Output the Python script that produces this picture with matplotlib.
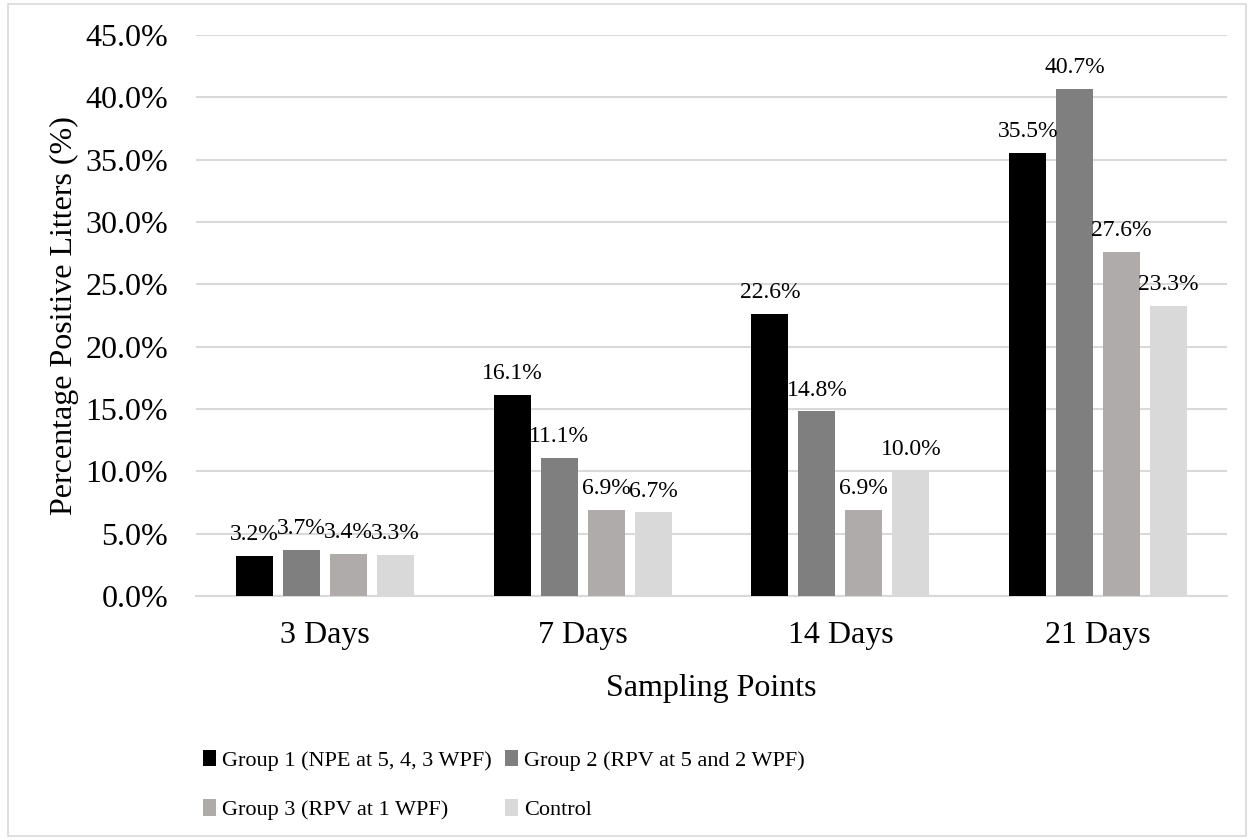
import numpy as np
import matplotlib
matplotlib.use('Agg')
import matplotlib.pyplot as plt
from matplotlib.patches import Rectangle
from matplotlib.ticker import PercentFormatter

plt.rcParams['font.family'] = ['Liberation Serif', 'DejaVu Serif']

sampling_points = ['3 Days', '7 Days', '14 Days', '21 Days']
group_names = ['Group 1 (NPE at 5, 4, 3 WPF)', 'Group 2 (RPV at 5 and 2 WPF)',
               'Group 3 (RPV at 1 WPF)', 'Control']
group1 = [0.032, 0.161, 0.226, 0.355]
group2 = [0.037, 0.111, 0.148, 0.407]
group3 = [0.034, 0.069, 0.069, 0.276]
control = [0.033, 0.067, 0.100, 0.233]

series = [group1, group2, group3, control]
colors = ['#000000', '#7f7f7f', '#afabab', '#d9d9d9']

W, H = 1251, 840
fig = plt.figure(figsize=(W / 100, H / 100), dpi=100)
# thin border round the whole chart
fig.patches.append(Rectangle((8 / W, 4 / H), (1246 - 8) / W, (836 - 4) / H,
                             transform=fig.transFigure, fill=False,
                             edgecolor='#d9d9d9', linewidth=1.2))

ax = fig.add_axes([196 / W, 1 - 596 / H, (1227 - 196) / W, (596 - 35) / H])

x = np.arange(len(sampling_points))
step = 0.1823
width = 0.1435
for i, (vals, c, name) in enumerate(zip(series, colors, group_names)):
    pos = x + (i - 1.5) * step
    ax.bar(pos, vals, width, color=c, label=name, zorder=3)
    for xb, v in zip(pos, vals):
        ax.annotate(f'{v * 100:.1f}%', (xb, v), xytext=(0, 11.5),
                    textcoords='offset points', ha='center', va='baseline',
                    fontsize=17, zorder=4)

ax.set_xlim(-0.5, len(sampling_points) - 0.5)
ax.set_ylim(0, 0.45)
ax.set_yticks(np.arange(0, 0.4501, 0.05))
ax.yaxis.set_major_formatter(PercentFormatter(1.0, decimals=1))
ax.set_xticks(x)
ax.set_xticklabels(sampling_points)
ax.tick_params(axis='both', length=0, labelsize=23)
ax.tick_params(axis='y', pad=20)
ax.tick_params(axis='x', pad=18)
ax.grid(axis='y', color='#d9d9d9', linewidth=1.5, zorder=0)
for s in ['top', 'right', 'left']:
    ax.spines[s].set_visible(False)
ax.spines['bottom'].set_color('#d9d9d9')
ax.spines['bottom'].set_linewidth(1.5)

ax.set_xlabel('Sampling Points', fontsize=23, labelpad=17)
ax.set_ylabel('Percentage Positive Litters (%)', fontsize=23, labelpad=5)

# legend fills column by column, so reorder to read across rows
handles, labels = ax.get_legend_handles_labels()
order = [0, 2, 1, 3]
fig.legend([handles[k] for k in order], [labels[k] for k in order],
           ncol=2, frameon=False, fontsize=16,
           loc='upper left', bbox_to_anchor=(203 / W, 1 - 750 / H),
           borderpad=0, borderaxespad=0,
           handlelength=0.6, handleheight=0.75, handletextpad=0.25,
           columnspacing=0.6, labelspacing=1.28)

fig.savefig('out.png', dpi=100)
